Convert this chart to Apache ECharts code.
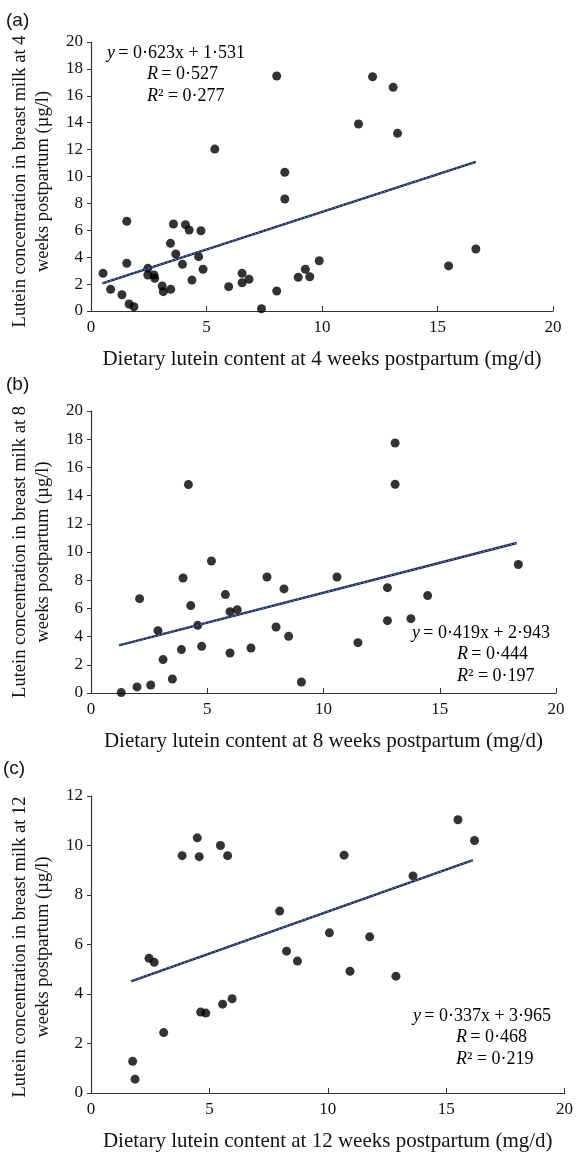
<!DOCTYPE html>
<html>
<head>
<meta charset="utf-8">
<script src="https://cdn.jsdelivr.net/npm/echarts@6.0.0/dist/echarts.min.js"></script>
<style>
  html, body { margin: 0; padding: 0; background: #fff; }
  #chart { width: 576px; height: 1153px; }
</style>
</head>
<body>
<div id="chart"></div>
<script>
// (a) 4 weeks postpartum: dietary lutein (mg/d) vs breast milk lutein (µg/l)
const wk4Intake = [0.52, 0.85, 1.34, 1.55, 1.55, 1.65, 1.86, 2.46, 2.46, 2.73, 2.76, 3.08, 3.13, 3.45, 3.44,
  3.57, 3.67, 3.96, 4.09, 4.25, 4.37, 4.66, 4.76, 4.85, 5.36, 5.96, 6.54, 6.54, 6.84, 7.38, 8.04, 8.04,
  8.39, 8.39, 8.97, 9.28, 9.47, 9.88, 11.58, 12.19, 13.08, 13.27, 15.48, 16.66];
const wk4Milk = [2.80, 1.61, 1.21, 6.67, 3.55, 0.52, 0.32, 3.17, 2.68, 2.68, 2.43, 1.86, 1.44, 1.61, 5.03,
  6.47, 4.24, 3.47, 6.42, 6.02, 2.30, 4.04, 5.97, 3.10, 12.04, 1.81, 2.80, 2.10, 2.36, 0.17, 17.47, 1.49,
  10.31, 8.33, 2.51, 3.10, 2.55, 3.74, 13.90, 17.42, 16.63, 13.21, 3.35, 4.61];
const wk4FitX = [0.49, 16.66];
const wk4FitY = [2.06, 11.08];

// (b) 8 weeks postpartum
const wk8Intake = [1.30, 1.98, 2.09, 2.57, 2.88, 3.10, 3.50, 3.89, 3.96, 4.19, 4.29, 4.59, 4.76, 5.18, 5.78,
  5.98, 5.98, 6.29, 6.88, 7.57, 7.96, 8.30, 8.50, 9.05, 10.58, 11.48, 12.75, 12.75, 13.08, 13.08, 13.76,
  14.48, 18.38];
const wk8Milk = [0.03, 0.43, 6.69, 0.57, 4.42, 2.37, 0.99, 3.08, 8.16, 14.78, 6.20, 4.80, 3.31, 9.36, 6.98,
  2.84, 5.77, 5.91, 3.19, 8.23, 4.68, 7.38, 4.02, 0.78, 8.23, 3.57, 7.47, 5.13, 17.73, 14.80, 5.27,
  6.91, 9.11];
const wk8FitX = [1.20, 18.31];
const wk8FitY = [3.38, 10.64];

// (c) 12 weeks postpartum
const wk12Intake = [1.76, 1.86, 2.45, 2.67, 3.07, 3.85, 4.49, 4.57, 4.63, 4.85, 5.47, 5.77, 5.56, 5.96, 7.97,
  8.26, 8.72, 10.07, 10.69, 10.94, 11.77, 12.88, 13.60, 15.50, 16.20];
const wk12Milk = [1.28, 0.56, 5.44, 5.28, 2.44, 9.59, 10.31, 9.55, 3.27, 3.23, 10.00, 9.59, 3.59, 3.81, 7.35,
  5.73, 5.33, 6.47, 9.61, 4.92, 6.31, 4.72, 8.77, 11.04, 10.20];
const wk12FitX = [1.69, 16.13];
const wk12FitY = [4.51, 9.41];

const xTicks = { min: 0, max: 20, interval: 5 };
const yMaxes = [20, 20, 12];
const panelLetters = ['(a)', '(b)', '(c)'];
const xTitles = [
  'Dietary lutein content at 4 weeks postpartum (mg/d)',
  'Dietary lutein content at 8 weeks postpartum (mg/d)',
  'Dietary lutein content at 12 weeks postpartum (mg/d)'
];
const yTitles = [
  'Lutein concentration in breast milk at 4\nweeks postpartum (\u00b5g/l)',
  'Lutein concentration in breast milk at 8\nweeks postpartum (\u00b5g/l)',
  'Lutein concentration in breast milk at 12\nweeks postpartum (\u00b5g/l)'
];
const fitText = [
  ['0\u00b7623x + 1\u00b7531', '0\u00b7527', '0\u00b7277'],
  ['0\u00b7419x + 2\u00b7943', '0\u00b7444', '0\u00b7197'],
  ['0\u00b7337x + 3\u00b7965', '0\u00b7468', '0\u00b7219']
];

const SERIF = '"Liberation Serif", "Times New Roman", serif';
const SANS = '"Liberation Sans", Arial, sans-serif';
const INK = '#111';

const grids = [
  { left: 91, top: 42, width: 462, height: 269 },
  { left: 91, top: 411, width: 465, height: 282 },
  { left: 91, top: 796, width: 474, height: 300 }
];
// small vertical nudge of each rotated y title
const yTitleShift = [5, 0, 1];

const zip = (xs, ys) => xs.map((x, i) => [x, ys[i]]);
const panels = [
  { pts: zip(wk4Intake, wk4Milk), fit: zip(wk4FitX, wk4FitY) },
  { pts: zip(wk8Intake, wk8Milk), fit: zip(wk8FitX, wk8FitY) },
  { pts: zip(wk12Intake, wk12Milk), fit: zip(wk12FitX, wk12FitY) }
];

const chart = echarts.init(document.getElementById('chart'), null, { renderer: 'canvas' });

const xAxis = grids.map((g, i) => ({
  type: 'value', gridIndex: i, ...xTicks,
  name: xTitles[i], nameLocation: 'middle', nameGap: 38,
  nameTextStyle: { fontFamily: SERIF, fontSize: 21, color: INK },
  axisLine: { show: true, lineStyle: { color: '#333', width: 1.2 } },
  axisTick: { show: true, inside: true, length: 5, lineStyle: { color: '#333' } },
  axisLabel: { fontFamily: SERIF, fontSize: 17, color: INK, margin: 8 },
  splitLine: { show: false }
}));

const yAxis = grids.map((g, i) => ({
  type: 'value', gridIndex: i, min: 0, max: yMaxes[i], interval: 2,
  axisLine: { show: true, lineStyle: { color: '#333', width: 1.2 } },
  axisTick: { show: true, length: 4, lineStyle: { color: '#333' } },
  axisLabel: { fontFamily: SERIF, fontSize: 17, color: INK, margin: 8 },
  splitLine: { show: false }
}));

const series = [];
panels.forEach((p, i) => {
  series.push({
    type: 'scatter', xAxisIndex: i, yAxisIndex: i, data: p.pts,
    symbolSize: 9, itemStyle: { color: '#000' }, z: 2
  });
  series.push({
    type: 'line', xAxisIndex: i, yAxisIndex: i, data: p.fit,
    showSymbol: false, lineStyle: { color: '#1c2650', width: 2.4 }, z: 3
  });
  series.push({
    type: 'line', xAxisIndex: i, yAxisIndex: i, data: p.fit,
    showSymbol: false, lineStyle: { color: '#6d9be0', width: 0.9, type: [2, 2] }, z: 4
  });
});

const rich = {
  it: { fontFamily: SERIF, fontStyle: 'italic', fontSize: 18, color: INK },
  n: { fontFamily: SERIF, fontSize: 18, color: INK }
};
// equation blocks: [left of first line, left of R lines, first line centre y]
const eqPos = [[107, 147, 53], [412, 457, 633], [413, 456, 1016]];
const graphic = [];
eqPos.forEach(([x1, x2, y0], i) => {
  const [eq, r, r2] = fitText[i];
  graphic.push({ type: 'text', x: x1, y: y0, style: { text: '{it|y} {n|= ' + eq + '}', rich, verticalAlign: 'middle' } });
  graphic.push({ type: 'text', x: x2, y: y0 + 21, style: { text: '{it|R} {n|= ' + r + '}', rich, verticalAlign: 'middle' } });
  graphic.push({ type: 'text', x: x2, y: y0 + 43, style: { text: '{it|R}{n|\u00b2 = ' + r2 + '}', rich, verticalAlign: 'middle' } });
});
// panel letters
[[6, 21], [6, 385], [3, 769]].forEach(([x, y], i) => {
  graphic.push({ type: 'text', x, y, style: { text: panelLetters[i], fontFamily: SANS, fontSize: 19, fill: INK, verticalAlign: 'middle' } });
});
// rotated y titles centred on each grid
grids.forEach((g, i) => {
  graphic.push({
    type: 'text', x: 32, y: g.top + g.height / 2 + yTitleShift[i], rotation: Math.PI / 2,
    style: {
      text: yTitles[i], fontFamily: SERIF, fontSize: 18.5, lineHeight: 23, fill: INK,
      align: 'center', verticalAlign: 'middle'
    }
  });
});

chart.setOption({
  backgroundColor: '#fff',
  animation: false,
  grid: grids,
  xAxis,
  yAxis,
  series,
  graphic
});
</script>
</body>
</html>
